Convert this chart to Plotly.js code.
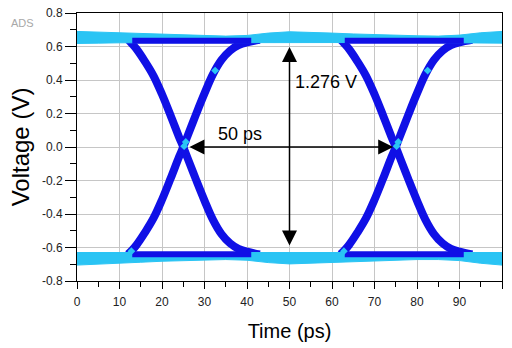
<!DOCTYPE html>
<html>
<head>
<meta charset="utf-8">
<script src="https://cdn.plot.ly/plotly-3.0.1.min.js"></script>
<style>html,body{margin:0;padding:0;background:#fff;}#chart{width:512px;height:348px;}</style>
</head>
<body>
<div id="chart"></div>
<script>
// Band outline of the logic levels (cyan cloud of traces)
const bandX   = [0, 5, 10, 15, 20, 25, 30, 35, 40, 45, 50, 55, 60, 65, 70, 75, 80, 85, 90, 95, 100];
const hiUpper = [0.690, 0.686, 0.680, 0.675, 0.670, 0.667, 0.664, 0.662, 0.666, 0.680, 0.688, 0.686, 0.680, 0.675, 0.670, 0.667, 0.664, 0.662, 0.668, 0.682, 0.690];
const hiLower = [0.618, 0.620, 0.622, 0.623, 0.624, 0.624, 0.624, 0.624, 0.624, 0.625, 0.626, 0.625, 0.622, 0.623, 0.624, 0.624, 0.624, 0.624, 0.624, 0.622, 0.620];
const loUpper = [-0.630, -0.630, -0.630, -0.631, -0.632, -0.632, -0.632, -0.632, -0.632, -0.631, -0.631, -0.631, -0.630, -0.631, -0.632, -0.632, -0.632, -0.632, -0.632, -0.631, -0.630];
const loLower = [-0.705, -0.700, -0.695, -0.688, -0.682, -0.678, -0.674, -0.672, -0.676, -0.690, -0.698, -0.696, -0.692, -0.686, -0.680, -0.676, -0.672, -0.672, -0.678, -0.694, -0.705];

// Transition edges, eye 1 and eye 2
const edgeT1 = [12, 13, 14, 16, 18, 20, 22, 24, 25, 26, 28, 30, 32, 34, 36, 38, 40, 43];
const edgeT2 = [62, 63, 64, 66, 68, 70, 72, 74, 75, 76, 78, 80, 82, 84, 86, 88, 90, 93];
const riseV  = [-0.640, -0.615, -0.585, -0.510, -0.425, -0.315, -0.190, -0.060, 0.000, 0.065, 0.195, 0.320, 0.435, 0.520, 0.575, 0.608, 0.625, 0.640];
const fallV  = [0.642, 0.615, 0.585, 0.510, 0.425, 0.315, 0.190, 0.060, 0.000, -0.065, -0.195, -0.320, -0.435, -0.520, -0.575, -0.608, -0.625, -0.642];

// Settled blue traces inside the level bands
const settleX1 = [13, 41];
const settleX2 = [63, 91];
const settleHi = [0.635, 0.635];
const settleLo = [-0.641, -0.641];

// Cyan sample markers on the edges
const markX = [12.8, 25.2, 25.6, 32.5, 62.8, 75.2, 75.6, 82.5];
const markY = [-0.622, 0.005, 0.03, 0.456, -0.622, 0.005, 0.03, 0.456];

const yTickVals = [-0.8, -0.6, -0.4, -0.2, 0.0, 0.2, 0.4, 0.6, 0.8];
const yTickText = ['-0.8', '-0.6', '-0.4', '-0.2', '0.0', '0.2', '0.4', '0.6', '0.8'];
const xTickVals = [0, 10, 20, 30, 40, 50, 60, 70, 80, 90, 100];

const CYAN = '#2ac4f4';
const BLUE = '#1010e6';

function bandPoly(up, lo) {
  return {x: bandX.concat(bandX.slice().reverse()), y: up.concat(lo.slice().reverse())};
}
const hiP = bandPoly(hiUpper, hiLower);
const loP = bandPoly(loUpper, loLower);

const edgeLine = {color: BLUE, width: 8, shape: 'spline'};
const traces = [
  {x: edgeT1, y: riseV, mode: 'lines', line: edgeLine, hoverinfo: 'skip'},
  {x: edgeT1, y: fallV, mode: 'lines', line: edgeLine, hoverinfo: 'skip'},
  {x: edgeT2, y: riseV, mode: 'lines', line: edgeLine, hoverinfo: 'skip'},
  {x: edgeT2, y: fallV, mode: 'lines', line: edgeLine, hoverinfo: 'skip'},
  {x: hiP.x, y: hiP.y, mode: 'lines', fill: 'toself', fillcolor: CYAN, line: {color: CYAN, width: 1}, hoverinfo: 'skip'},
  {x: loP.x, y: loP.y, mode: 'lines', fill: 'toself', fillcolor: CYAN, line: {color: CYAN, width: 1}, hoverinfo: 'skip'},
  {x: settleX1, y: settleHi, mode: 'lines', line: {color: BLUE, width: 6}, hoverinfo: 'skip'},
  {x: settleX2, y: settleHi, mode: 'lines', line: {color: BLUE, width: 6}, hoverinfo: 'skip'},
  {x: settleX1, y: settleLo, mode: 'lines', line: {color: BLUE, width: 6}, hoverinfo: 'skip'},
  {x: settleX2, y: settleLo, mode: 'lines', line: {color: BLUE, width: 6}, hoverinfo: 'skip'},
  {x: markX, y: markY, mode: 'markers', marker: {color: CYAN, size: 6, symbol: 'diamond'}, hoverinfo: 'skip'}
];

const FONT = 'Liberation Sans, Arial, sans-serif';

const layout = {
  width: 512, height: 348,
  margin: {l: 77, r: 10, t: 13, b: 67},
  paper_bgcolor: '#fff', plot_bgcolor: '#fff',
  showlegend: false,
  font: {family: FONT, color: '#222'},
  xaxis: {
    range: [0, 100], tickvals: xTickVals, ticks: 'outside', ticklen: 7, tickcolor: '#000',
    showgrid: true, gridcolor: '#c6c6c6', gridwidth: 1, zeroline: false,
    showline: true, linecolor: '#000', linewidth: 1, mirror: true,
    tickfont: {size: 12, family: FONT, color: '#222'}, ticklabelstandoff: 3,
    minor: {dtick: 5, ticks: 'outside', ticklen: 5, tickcolor: '#000', showgrid: false},
    title: {text: 'Time (ps)', font: {size: 20, family: FONT, color: '#000'}, standoff: 15}
  },
  yaxis: {
    range: [-0.8, 0.8], tickvals: yTickVals, ticktext: yTickText, ticks: 'outside', ticklen: 11, tickcolor: '#000',
    showgrid: true, gridcolor: '#c6c6c6', gridwidth: 1, zeroline: false,
    showline: true, linecolor: '#000', linewidth: 1, mirror: true,
    tickfont: {size: 12, family: FONT, color: '#222'},
    minor: {dtick: 0.1, ticks: 'outside', ticklen: 6, tickcolor: '#000', showgrid: false},
    title: {text: 'Voltage (V)', font: {size: 24, family: FONT, color: '#000'}, standoff: 5}
  },
  annotations: [
    {x: 74.4, y: 0, ax: 26.1, ay: 0, xref: 'x', yref: 'y', axref: 'x', ayref: 'y', text: '',
     showarrow: true, arrowhead: 2, startarrowhead: 2, arrowside: 'end+start', arrowsize: 2, startarrowsize: 2, arrowwidth: 1.5, arrowcolor: '#000'},
    {x: 50, y: 0.597, ax: 50, ay: -0.597, xref: 'x', yref: 'y', axref: 'x', ayref: 'y', text: '',
     showarrow: true, arrowhead: 2, startarrowhead: 2, arrowside: 'end+start', arrowsize: 2, startarrowsize: 2, arrowwidth: 1.5, arrowcolor: '#000'},
    {x: 38.3, y: 0.078, xref: 'x', yref: 'y', text: '50 ps', showarrow: false,
     font: {size: 18, family: FONT, color: '#000'}, xanchor: 'center', yanchor: 'middle'},
    {x: 50.9, y: 0.39, xref: 'x', yref: 'y', text: '1.276 V', showarrow: false,
     font: {size: 18, family: FONT, color: '#000'}, xanchor: 'left', yanchor: 'middle'},
    {x: -0.129, y: 0.963, xref: 'paper', yref: 'paper', text: 'ADS', showarrow: false,
     font: {size: 11, family: FONT, color: '#a8a8a8'}, xanchor: 'center', yanchor: 'middle'}
  ]
};

Plotly.newPlot('chart', traces, layout, {displayModeBar: false, staticPlot: true});
</script>
</body>
</html>
